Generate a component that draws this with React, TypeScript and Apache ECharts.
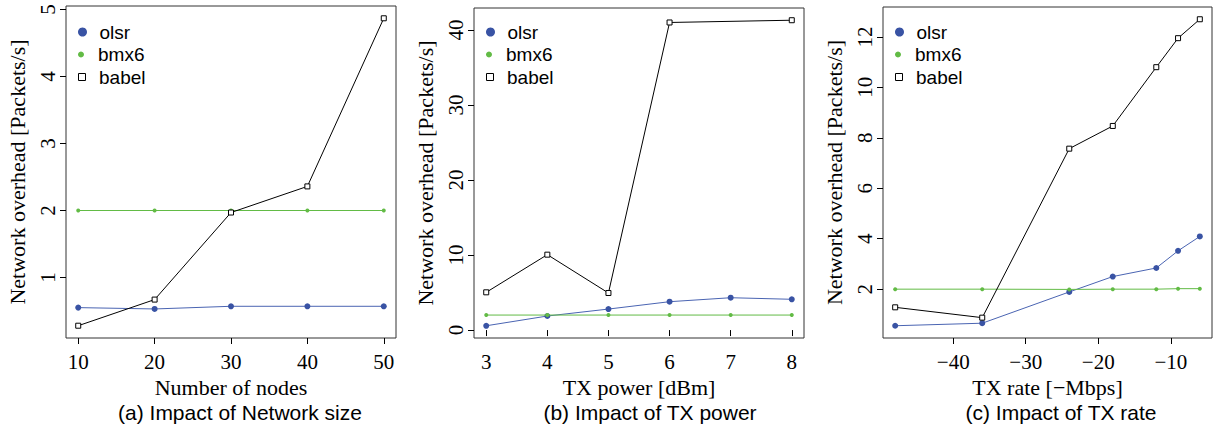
import React, { useEffect, useRef } from 'react';
import * as echarts from 'echarts';

// ---- data ----
const nodesX = [10, 20, 30, 40, 50];
const olsrA = [0.55, 0.53, 0.57, 0.57, 0.57];
const bmx6A = [2.0, 2.0, 2.0, 2.0, 2.0];
const babelA = [0.28, 0.67, 1.97, 2.36, 4.87];

const powerX = [3, 4, 5, 6, 7, 8];
const olsrB = [0.57, 1.87, 2.8, 3.78, 4.31, 4.1];
const bmx6B = [2.0, 2.0, 2.0, 2.0, 2.0, 2.0];
const babelBX = [3, 4, 5, 6, 8];
const babelB = [5.03, 10.05, 4.94, 41.0, 41.3];

const rateX = [-48, -36, -24, -18, -12, -9, -6];
const olsrC = [0.55, 0.65, 1.89, 2.5, 2.84, 3.52, 4.09];
const bmx6C = [2.0, 2.0, 1.99, 2.0, 2.0, 2.02, 2.02];
const babelC = [1.28, 0.87, 7.57, 8.47, 10.8, 11.95, 12.7];

const xTicksA = [10, 20, 30, 40, 50];
const yTicksA = [1, 2, 3, 4, 5];
const xTicksB = [3, 4, 5, 6, 7, 8];
const yTicksB = [0, 10, 20, 30, 40];
const xTicksC = [-40, -30, -20, -10];
const yTicksC = [2, 4, 6, 8, 10, 12];

const seriesNames = ['olsr', 'bmx6', 'babel'];
const xTitles = ['Number of nodes', 'TX power [dBm]', 'TX rate [\u2212Mbps]'];
const yTitle = 'Network overhead [Packets/s]';
const captions = ['(a) Impact of Network size', '(b) Impact of TX power', '(c) Impact of TX rate'];

// ---- styles ----
const BLUE = '#3953a4';
const GREEN = '#62bb45';
const SERIF = 'Liberation Serif';
const SANS = 'Liberation Sans';

const zip = (xs: number[], ys: number[]) => xs.map((x, i) => [x, ys[i]]);
const rRange = (vals: number[]) => {
  const mn = Math.min(...vals);
  const mx = Math.max(...vals);
  const d = (mx - mn) * 0.04;
  return [mn - d, mx + d];
};
const fmt = (v: number) => String(v).replace('-', '\u2212');

const panels = [
  { xs: nodesX, olsr: zip(nodesX, olsrA), bmx6: zip(nodesX, bmx6A), babel: zip(nodesX, babelA), xt: xTicksA, yt: yTicksA },
  { xs: powerX, olsr: zip(powerX, olsrB), bmx6: zip(powerX, bmx6B), babel: zip(babelBX, babelB), xt: xTicksB, yt: yTicksB },
  { xs: rateX, olsr: zip(rateX, olsrC), bmx6: zip(rateX, bmx6C), babel: zip(rateX, babelC), xt: xTicksC, yt: yTicksC },
];

const gridBoxes = [
  { left: 66, top: 6, width: 330, height: 332 },
  { left: 474, top: 8, width: 330, height: 330 },
  { left: 883, top: 7, width: 329, height: 331 },
];
const captionX = [240, 650, 1061];

export default function App() {
  const ref = useRef<HTMLDivElement>(null);
  useEffect(() => {
    if (!ref.current) return;
    const chart = echarts.init(ref.current, null, { renderer: 'svg' });

    const grid: any[] = [];
    const xAxis: any[] = [];
    const yAxis: any[] = [];
    const series: any[] = [];
    const legend: any[] = [];
    const graphic: any[] = [];

    panels.forEach((p, i) => {
      const g = gridBoxes[i];
      grid.push({
        ...g,
        show: true,
        borderColor: '#333',
        borderWidth: 1,
        backgroundColor: 'transparent',
        containLabel: false,
        outerBoundsMode: 'none',
      });
      const xr = rRange(p.xs);
      const allY = [...p.olsr, ...p.bmx6, ...p.babel].map((d) => d[1]);
      const yr = rRange(allY);
      xAxis.push({
        type: 'value',
        gridIndex: i,
        min: xr[0],
        max: xr[1],
        axisLine: { show: false },
        axisTick: { show: true, inside: false, length: 6, customValues: p.xt, lineStyle: { color: '#000', width: 1 } },
        axisLabel: { show: true, customValues: p.xt, formatter: fmt, margin: 13, color: '#000', fontFamily: SERIF, fontSize: 21 },
        splitLine: { show: false },
        name: xTitles[i],
        nameLocation: 'middle',
        nameGap: 30,
        nameTextStyle: { color: '#000', fontFamily: SERIF, fontSize: 22 },
      });
      yAxis.push({
        type: 'value',
        gridIndex: i,
        min: yr[0],
        max: yr[1],
        axisLine: { show: false },
        axisTick: { show: true, inside: false, length: 6, customValues: p.yt, lineStyle: { color: '#000', width: 1 } },
        axisLabel: { show: true, customValues: p.yt, formatter: fmt, rotate: 90, margin: 8, color: '#000', fontFamily: SERIF, fontSize: 21 },
        splitLine: { show: false },
        name: yTitle,
        nameLocation: 'middle',
        nameGap: 38,
        nameTextStyle: { color: '#000', fontFamily: SERIF, fontSize: 22 },
      });
      series.push(
        {
          type: 'line', name: 'olsr', xAxisIndex: i, yAxisIndex: i, data: p.olsr,
          symbol: 'circle', symbolSize: 6, showSymbol: true,
          itemStyle: { color: BLUE }, lineStyle: { color: '#4a64b2', width: 1 }, z: 2,
        },
        {
          type: 'line', name: 'bmx6', xAxisIndex: i, yAxisIndex: i, data: p.bmx6,
          symbol: 'circle', symbolSize: 4, showSymbol: true,
          itemStyle: { color: GREEN }, lineStyle: { color: GREEN, width: 1 }, z: 3,
        },
        {
          type: 'line', name: 'babel', xAxisIndex: i, yAxisIndex: i, data: p.babel,
          symbol: 'rect', symbolSize: 5, showSymbol: true,
          itemStyle: { color: '#fff', borderColor: '#000', borderWidth: 1 }, lineStyle: { color: '#000', width: 1 }, z: 4,
        }
      );
      const rows = [32, 54.5, 77];
      const icons = [
        { name: 'olsr', icon: 'circle', h: 9, style: { color: BLUE, borderWidth: 0 } },
        { name: 'bmx6', icon: 'circle', h: 6, style: { color: GREEN, borderWidth: 0 } },
        { name: 'babel', icon: 'path://M0,0L10,0L10,10L0,10Z', h: 7, style: { color: '#fff', borderColor: '#000', borderWidth: 1 } },
      ];
      icons.forEach((it, k) => {
        legend.push({
          show: true,
          orient: 'vertical',
          left: g.left + 12,
          top: rows[k] - 9.5,
          padding: 0,
          itemWidth: 24,
          itemHeight: it.h,
          selectedMode: false,
          data: [{ name: it.name, icon: it.icon, itemStyle: it.style }],
          textStyle: { color: '#000', fontFamily: SANS, fontSize: 19 },
        });
      });
      graphic.push({
        type: 'text',
        x: captionX[i],
        y: 412,
        style: {
          text: captions[i],
          fill: '#000',
          font: `21px "${SANS}"`,
          textAlign: 'center',
          textVerticalAlign: 'middle',
          verticalAlign: 'middle',
        },
      });
    });

    chart.setOption({
      animation: false,
      backgroundColor: '#fff',
      grid,
      xAxis,
      yAxis,
      series,
      legend,
      graphic,
      tooltip: { show: false },
    });
    return () => chart.dispose();
  }, []);

  return (
    <div
      ref={ref}
      style={{ position: 'absolute', left: 0, top: 0, width: 1213, height: 426, background: '#fff' }}
    />
  );
}
